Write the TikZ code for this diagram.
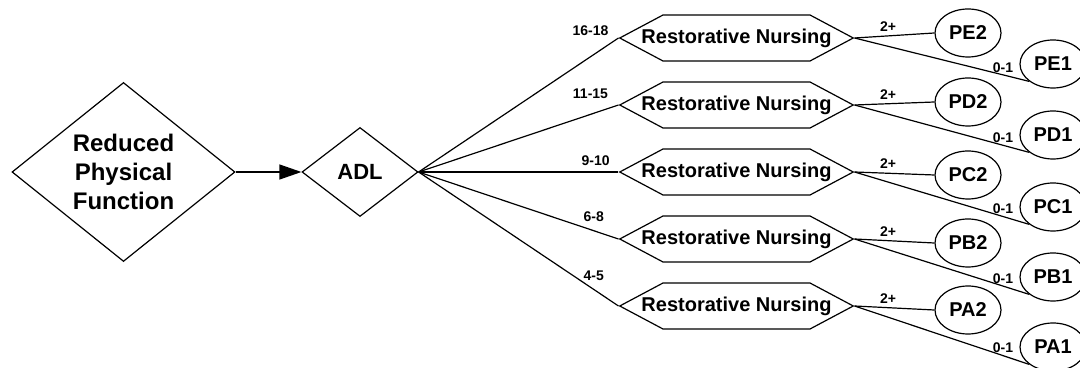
\documentclass[tikz,border=0pt]{standalone}
\usepackage{fontspec}
\setmainfont{Liberation Sans}
\usetikzlibrary{shapes.geometric,shapes.symbols,arrows.meta}
\begin{document}
\begin{tikzpicture}[x=0.5pt,y=-0.5pt,line width=0.6pt,font=\bfseries,
 dia/.style={draw,diamond,fill=white,inner sep=0pt},
 hexa/.style={draw,signal,signal to=west and east,signal pointer angle=56,
  minimum height=23pt,inner sep=0pt,
  font=\bfseries\fontsize{10}{12}\selectfont},
 oval/.style={draw,ellipse,minimum width=33pt,minimum height=24pt,inner sep=0pt,
  font=\bfseries\fontsize{10}{12}\selectfont},
 lbl/.style={font=\bfseries\fontsize{7}{8}\selectfont,inner sep=0pt}]
 \useasboundingbox (0,0) rectangle (1080,368);
 \newcommand\rntext{\makebox[73.5pt]{Restorative Nursing}}
 % left part
 \node[dia,minimum width=111.5pt,minimum height=89.5pt,align=center,
  font=\bfseries\fontsize{12}{14.5}\selectfont] (rpf) at (123.5,172) {Reduced\\Physical\\Function};
 \node[dia,minimum width=58pt,minimum height=44.5pt,
  font=\bfseries\fontsize{11}{13}\selectfont] (adl) at (360,172) {ADL};
 \draw[-{Triangle[length=11pt,width=7.5pt]}] (rpf) -- (adl);
 % restorative nursing
 \node[hexa] (rnE) at (736.5,38) {\rntext};
 \node[hexa] (rnD) at (736.5,105) {\rntext};
 \node[hexa] (rnC) at (736.5,172) {\rntext};
 \node[hexa] (rnB) at (736.5,239) {\rntext};
 \node[hexa] (rnA) at (736.5,306) {\rntext};
 \draw (adl.east) -- node[lbl,pos=.86,above=10.5pt] (lE) {16-18} (rnE.west);
 \draw (adl.east) -- node[lbl,pos=.86,above=7.5pt] (lD) {11-15} (rnD.west);
 \draw (adl.east) -- node[lbl,pos=.886,above=3pt] (lC) {9-10} (rnC.west);
 \draw (adl.east) -- node[lbl,pos=.876,above=4pt] (lB) {6-8} (rnB.west);
 \draw (adl.east) -- node[lbl,pos=.876,above=4pt] (lA) {4-5} (rnA.west);
 % groups
 \node[oval] (pe2) at (968,33) {PE2};
 \node[oval] (pe1) at (1053,64) {PE1};
 \node[oval] (pd2) at (968,102) {PD2};
 \node[oval] (pd1) at (1053,135) {PD1};
 \node[oval] (pc2) at (968,175) {PC2};
 \node[oval] (pc1) at (1053,207) {PC1};
 \node[oval] (pb2) at (968,243) {PB2};
 \node[oval] (pb1) at (1053,277) {PB1};
 \node[oval] (pa2) at (968,310) {PA2};
 \node[oval] (pa1) at (1053,347) {PA1};
 \draw (rnE.east) -- node[lbl,pos=.42,above=2pt] (tE) {2+} (pe2.west);
 \draw (rnE.east) -- node[lbl,pos=.85,above=1pt] (oE) {0-1} (pe1.south west);
 \draw (rnD.east) -- node[lbl,pos=.42,above=2pt] (tD) {2+} (pd2.west);
 \draw (rnD.east) -- node[lbl,pos=.85,above=1pt] (oD) {0-1} (pd1.south west);
 \draw (rnC.east) -- node[lbl,pos=.42,above=2pt] (tC) {2+} (pc2.west);
 \draw (rnC.east) -- node[lbl,pos=.85,above=1pt] (oC) {0-1} (pc1.south west);
 \draw (rnB.east) -- node[lbl,pos=.42,above=2pt] (tB) {2+} (pb2.west);
 \draw (rnB.east) -- node[lbl,pos=.85,above=1pt] (oB) {0-1} (pb1.south west);
 \draw (rnA.east) -- node[lbl,pos=.42,above=2pt] (tA) {2+} (pa2.west);
 \draw (rnA.east) -- node[lbl,pos=.85,above=1pt] (oA) {0-1} (pa1.south west);
\end{tikzpicture}
\end{document}
